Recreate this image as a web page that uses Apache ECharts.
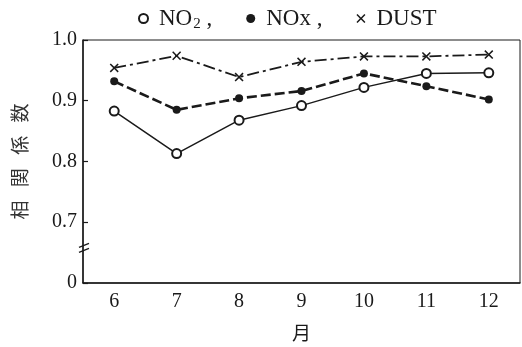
<!DOCTYPE html>
<html>
<head>
<meta charset="utf-8">
<script src="https://cdn.jsdelivr.net/npm/echarts@6/dist/echarts.min.js"></script>
<style>
html,body{margin:0;padding:0;background:#fff;}
#c{width:522px;height:347px;}
</style>
</head>
<body>
<div id="c"></div>
<script>
// Data
var months = ['6', '7', '8', '9', '10', '11', '12'];
var no2 = [0.883, 0.813, 0.868, 0.892, 0.922, 0.945, 0.946];
var nox = [0.932, 0.885, 0.904, 0.916, 0.945, 0.924, 0.902];
var dust = [0.954, 0.974, 0.939, 0.964, 0.973, 0.973, 0.976];
// Broken y-axis: bottom of the axis (0.6 position) is labelled "0"
var yMin = 0.6, yMax = 1.0, yStep = 0.1;
var yTickLabels = {'0.6': '0', '0.7': '0.7', '0.8': '0.8', '0.9': '0.9', '1.0': '1.0'};

var ink = '#1a1a1a';
var serif = '"Liberation Serif","DejaVu Serif",serif';
var crossPath = 'path://M0,1.2 L1.2,0 L5,3.8 L8.8,0 L10,1.2 L6.2,5 L10,8.8 L8.8,10 L5,6.2 L1.2,10 L0,8.8 L3.8,5 Z';

var chart = echarts.init(document.getElementById('c'), null, {renderer: 'canvas'});
var option = {
  backgroundColor: '#fff',
  animation: false,
  legend: {
    top: 2,
    left: 133,
    itemGap: 34,
    itemWidth: 9,
    itemHeight: 9,
    selectedMode: false,
    data: [
      {name: 'NO2', icon: 'emptyCircle', itemStyle: {color: ink, borderColor: ink, borderWidth: 1.3}},
      {name: 'NOx', icon: 'circle', itemStyle: {color: ink}},
      {name: 'DUST', icon: crossPath, itemStyle: {color: ink}}
    ],
    formatter: function (n) {
      if (n === 'NO2') return '{n|NO}{s|2}{n| ,}';
      if (n === 'NOx') return '{n|NOx ,}';
      return '{n|DUST}';
    },
    textStyle: {
      color: ink,
      padding: [0, 0, 0, 6],
      rich: {
        n: {fontFamily: serif, fontSize: 23, color: ink},
        s: {fontFamily: serif, fontSize: 15, color: ink, padding: [11, 0, 0, 1]}
      }
    }
  },
  grid: {
    left: 83, right: 2, top: 40, bottom: 62,
    show: true, borderColor: ink, borderWidth: 1, backgroundColor: 'transparent'
  },
  xAxis: {
    type: 'category',
    data: months,
    boundaryGap: true,
    name: '月',
    nameLocation: 'middle',
    nameGap: 40,
    nameTextStyle: {fontFamily: '"Noto Sans CJK JP"', fontSize: 19, color: ink},
    axisLine: {lineStyle: {color: ink, width: 1.5}},
    axisTick: {inside: true, alignWithLabel: true, length: 5, lineStyle: {color: ink, width: 1.2}},
    axisLabel: {fontFamily: serif, fontSize: 20, color: ink, margin: 9},
    splitLine: {show: false}
  },
  yAxis: {
    type: 'value',
    min: yMin, max: yMax, interval: yStep,
    name: '相\u2002\u2009関\u2002\u2009係\u2002\u2009数',
    nameLocation: 'middle',
    nameRotate: 90,
    nameGap: 54,
    nameTextStyle: {fontFamily: '"Noto Sans CJK JP"', fontSize: 19, color: '#333'},
    axisLine: {show: true, lineStyle: {color: ink, width: 1.5}},
    axisTick: {show: true, inside: true, length: 5, lineStyle: {color: ink, width: 1.2}},
    axisLabel: {
      fontFamily: serif, fontSize: 20, color: ink, margin: 6,
      formatter: function (v) { return yTickLabels[v.toFixed(1)]; }
    },
    splitLine: {show: false}
  },
  series: [
    {
      name: 'NO2', type: 'line', data: no2,
      symbol: 'emptyCircle', symbolSize: 9,
      lineStyle: {color: ink, width: 1.5, type: 'solid'},
      itemStyle: {color: ink, borderColor: ink, borderWidth: 1.3},
      z: 3
    },
    {
      name: 'NOx', type: 'line', data: nox,
      symbol: 'circle', symbolSize: 8,
      lineStyle: {color: ink, width: 2.6, type: [10, 4]},
      itemStyle: {color: ink},
      z: 4
    },
    {
      name: 'DUST', type: 'line', data: dust,
      symbol: crossPath, symbolSize: 9,
      lineStyle: {color: ink, width: 1.8, type: [12, 4, 3, 4]},
      itemStyle: {color: ink},
      z: 2
    }
  ]
};
chart.setOption(option);

// Axis-break mark on the y axis, placed through the axis scale
var rect = chart.getModel().getComponent('grid').coordinateSystem.getRect();
var yBreak = chart.convertToPixel({yAxisIndex: 0}, 0.657);
var ax = rect.x + 1;
chart.setOption({
  graphic: [
    {type: 'line', shape: {x1: ax - 5, y1: yBreak - 1, x2: ax + 5, y2: yBreak - 5}, style: {stroke: ink, lineWidth: 1.4}, z: 10},
    {type: 'line', shape: {x1: ax - 5, y1: yBreak + 4, x2: ax + 5, y2: yBreak}, style: {stroke: ink, lineWidth: 1.4}, z: 10}
  ]
});
</script>
</body>
</html>
